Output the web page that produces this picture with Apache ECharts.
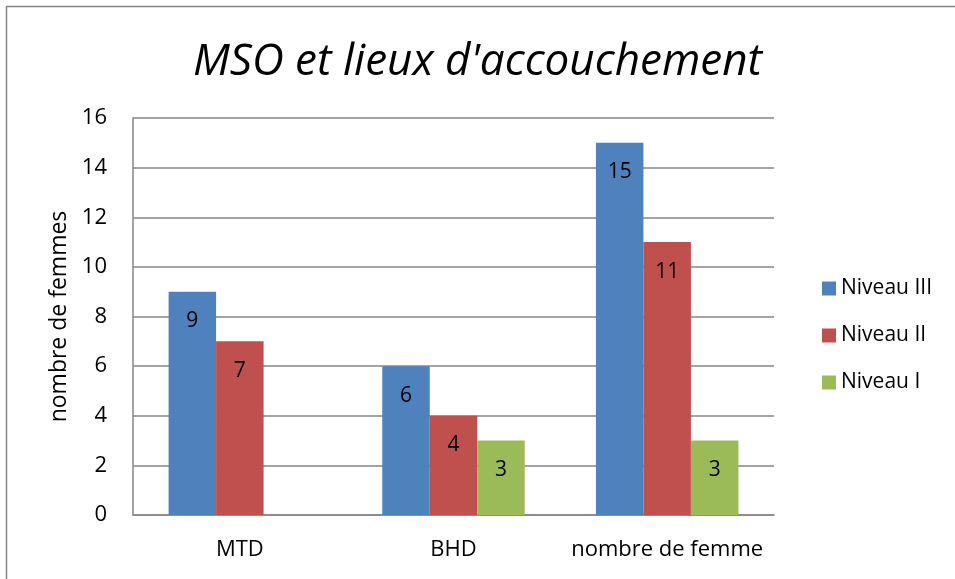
<!DOCTYPE html>
<html>
<head>
<meta charset="utf-8">
<script src="https://cdn.jsdelivr.net/npm/echarts@6/dist/echarts.min.js"></script>
<style>
  html, body { margin: 0; padding: 0; background: #fff; }
  #chart { width: 955px; height: 579px; }
</style>
</head>
<body>
<div id="chart"></div>
<script>
// données
var categories = ['MTD', 'BHD', 'nombre de femme'];
var seriesNames = ['Niveau III', 'Niveau II', 'Niveau I'];
var niveau3 = [9, 6, 15];
var niveau2 = [7, 4, 11];
var niveau1 = [null, 3, 3];
var colors = ['#4f81bd', '#c0504d', '#9bbb59'];

var FONT = '"Open Sans", "Liberation Sans", sans-serif';

function barSeries(name, data, color) {
  return {
    name: name,
    type: 'bar',
    data: data,
    barWidth: 47.5,
    barGap: '0%',
    itemStyle: { color: color },
    label: {
      show: true,
      position: 'insideTop',
      distance: 19,
      color: '#000',
      fontSize: 21,
      fontFamily: FONT
    }
  };
}

var chart = echarts.init(document.getElementById('chart'));
chart.setOption({
  animation: false,
  backgroundColor: '#fff',
  graphic: [{
    type: 'rect',
    shape: { x: 6.5, y: 6.5, width: 960, height: 600 },
    style: { fill: 'none', stroke: '#868686', lineWidth: 1.5 },
    silent: true
  }],
  title: {
    text: "MSO et lieux d'accouchement",
    left: 'center',
    top: 35,
    textStyle: {
      fontFamily: FONT,
      fontStyle: 'italic',
      fontWeight: 'normal',
      fontSize: 44,
      color: '#000'
    }
  },
  legend: {
    orient: 'vertical',
    left: 817,
    top: 273,
    itemWidth: 14,
    itemHeight: 14,
    itemGap: 26,
    icon: 'rect',
    data: seriesNames,
    textStyle: { fontFamily: FONT, fontSize: 21, color: '#000' }
  },
  grid: { left: 133, right: 181, top: 118, bottom: 64, containLabel: false },
  xAxis: {
    type: 'category',
    data: categories,
    axisLine: { lineStyle: { color: '#868686', width: 1.5 } },
    axisTick: { show: false },
    axisLabel: {
      interval: 0,
      hideOverlap: false,
      fontFamily: FONT,
      fontSize: 22,
      color: '#000',
      margin: 24
    }
  },
  yAxis: {
    type: 'value',
    min: 0,
    max: 16,
    interval: 2,
    name: 'nombre de femmes',
    nameLocation: 'middle',
    nameGap: 61,
    nameTextStyle: { fontFamily: FONT, fontSize: 23, color: '#000' },
    axisLine: { show: true, lineStyle: { color: '#868686', width: 1.5 } },
    axisTick: { show: false },
    splitLine: { lineStyle: { color: '#868686', width: 1.5 } },
    axisLabel: { fontFamily: FONT, fontSize: 22, color: '#000', margin: 26 }
  },
  series: [
    barSeries(seriesNames[0], niveau3, colors[0]),
    barSeries(seriesNames[1], niveau2, colors[1]),
    barSeries(seriesNames[2], niveau1, colors[2])
  ]
});
</script>
</body>
</html>
